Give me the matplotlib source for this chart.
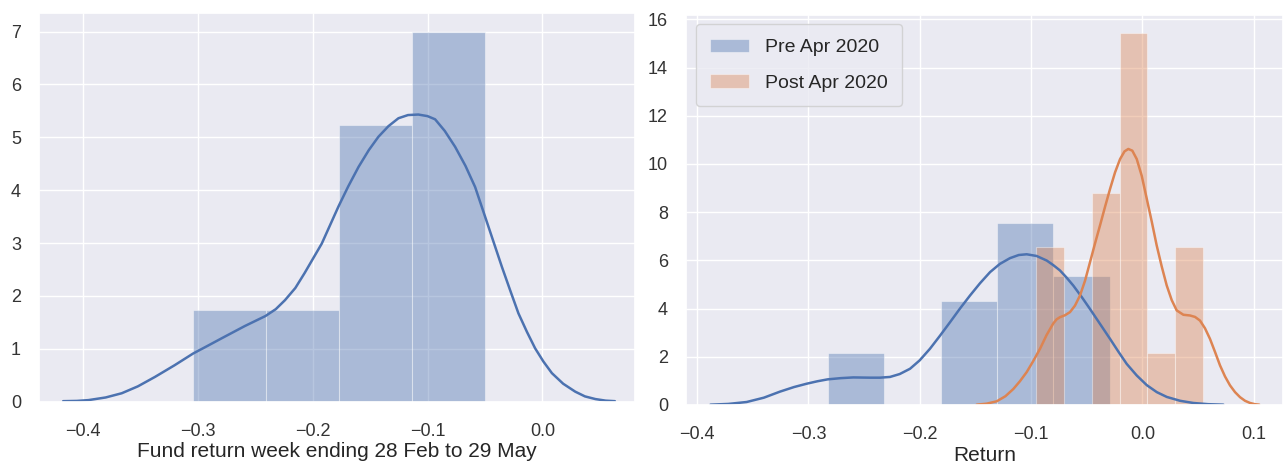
import numpy as np
import matplotlib
matplotlib.use("Agg")
import matplotlib.pyplot as plt
import seaborn as sns

# left panel: fund return histogram + kde
left_edges = [-0.304, -0.2405, -0.177, -0.1135, -0.050]
left_heights = [1.73, 1.73, 5.23, 6.99]
left_kde_x = [-0.417, -0.405, -0.395, -0.380, -0.366, -0.352, -0.337, -0.320,
              -0.304, -0.291, -0.279, -0.259, -0.241, -0.232, -0.224, -0.215,
              -0.207, -0.192, -0.1775, -0.169, -0.160, -0.151, -0.1427,
              -0.134, -0.1253, -0.117, -0.108, -0.100, -0.0934, -0.085,
              -0.076, -0.067, -0.0586, -0.047, -0.0353, -0.028, -0.0209,
              -0.0135, -0.0064, 0.0008, 0.0082, 0.018, 0.0285, 0.037, 0.046,
              0.055, 0.063]
left_kde_y = [0.01, 0.015, 0.03, 0.08, 0.16, 0.29, 0.47, 0.69,
              0.91, 1.06, 1.20, 1.43, 1.62, 1.75, 1.92, 2.15,
              2.43, 2.99, 3.69, 4.07, 4.44, 4.76, 5.01,
              5.21, 5.36, 5.42, 5.43, 5.40, 5.34, 5.12,
              4.82, 4.46, 4.06, 3.31, 2.55, 2.10, 1.67,
              1.32, 1.01, 0.76, 0.54, 0.34, 0.19, 0.10, 0.05,
              0.02, 0.01]

# right panel: pre / post Apr 2020
pre_edges = [-0.2827, -0.2320, -0.1813, -0.1306, -0.0799, -0.0292]
pre_heights = [2.14, 0.0, 4.31, 7.53, 5.35]
pre_kde_x = [-0.388, -0.372, -0.3555, -0.340, -0.3256, -0.313, -0.3015,
             -0.292, -0.2827, -0.271, -0.2597, -0.2447, -0.2357, -0.2267,
             -0.218, -0.2087, -0.200, -0.1908, -0.1818, -0.1728, -0.1638,
             -0.1548, -0.1458, -0.1368, -0.128, -0.1189, -0.111, -0.1039,
             -0.095, -0.0859, -0.080, -0.074, -0.068, -0.062, -0.0545,
             -0.047, -0.038, -0.029, -0.0215, -0.014, -0.005, 0.004, 0.013,
             0.022, 0.034, 0.0458, 0.059, 0.0728]
pre_kde_y = [0.01, 0.04, 0.12, 0.30, 0.55, 0.74, 0.88,
             0.98, 1.06, 1.11, 1.14, 1.13, 1.13, 1.16,
             1.28, 1.50, 1.85, 2.33, 2.87, 3.43, 4.00,
             4.54, 5.05, 5.51, 5.85, 6.09, 6.22, 6.25,
             6.18, 5.99, 5.80, 5.58, 5.28, 4.95, 4.48,
             3.98, 3.36, 2.74, 2.21, 1.70, 1.22, 0.82, 0.53,
             0.33, 0.17, 0.08, 0.03, 0.01]

post_edges = [-0.0955, -0.0705, -0.0455, -0.0205, 0.0045, 0.0295, 0.0545]
post_heights = [6.56, 0.0, 8.81, 15.44, 2.17, 6.56]
post_kde_x = [-0.1488, -0.140, -0.1308, -0.123, -0.1159, -0.110, -0.1039,
              -0.098, -0.0919, -0.086, -0.080, -0.077, -0.074, -0.0695,
              -0.065, -0.0605, -0.056, -0.0515, -0.047, -0.0425, -0.038,
              -0.0335, -0.029, -0.0245, -0.020, -0.016, -0.0126, -0.009,
              -0.005, -0.0005, 0.004, 0.0085, 0.0129, 0.0174, 0.0219, 0.0264,
              0.0309, 0.0369, 0.0429, 0.0474, 0.0518, 0.0563, 0.0608, 0.0653,
              0.0698, 0.0743, 0.0788, 0.0833, 0.0878, 0.0923, 0.0968, 0.101,
              0.105]
post_kde_y = [0.01, 0.05, 0.15, 0.36, 0.66, 0.98, 1.36,
              1.82, 2.33, 2.90, 3.38, 3.55, 3.64, 3.72,
              3.85, 4.12, 4.54, 5.15, 5.92, 6.70, 7.45,
              8.22, 8.96, 9.65, 10.20, 10.52, 10.62, 10.55,
              10.20, 9.50, 8.55, 7.60, 6.62, 5.75, 4.96, 4.35,
              3.92, 3.74, 3.71, 3.65, 3.50, 3.18, 2.74, 2.20,
              1.64, 1.18, 0.81, 0.53, 0.32, 0.17, 0.08, 0.03,
              0.01]

labels = ["Pre Apr 2020", "Post Apr 2020"]

sns.set_theme(style="darkgrid")
plt.rcParams["font.family"] = ["Liberation Sans", "DejaVu Sans"]

blue = sns.color_palette("deep")[0]
orange = sns.color_palette("deep")[1]


def draw_hist(ax, edges, heights, color, label=None):
    edges = np.asarray(edges)
    ax.bar(edges[:-1], heights, width=np.diff(edges), align="edge",
           color=color, alpha=0.4, edgecolor="white", linewidth=0.8,
           label=label)


W, H = 1285, 467
fig = plt.figure(figsize=(W / 100, H / 100), dpi=100)
# axes boxes in pixels: left, top, right, bottom
ax1 = fig.add_axes([39 / W, (H - 401.7) / H, (635 - 39) / W, (401.7 - 13) / H])
ax2 = fig.add_axes([686 / W, (H - 404.9) / H, (1283 - 686) / W, (404.9 - 14.5) / H])

draw_hist(ax1, left_edges, left_heights, blue)
ax1.plot(left_kde_x, left_kde_y, color=blue, lw=1.8, solid_joinstyle="round")
ax1.set_xlabel("Fund return week ending 28 Feb to 29 May", fontsize=15,
               labelpad=2)
ax1.set_xlim(-0.438, 0.0805)
ax1.set_ylim(0, 7.35)

draw_hist(ax2, pre_edges, pre_heights, blue, labels[0])
ax2.plot(pre_kde_x, pre_kde_y, color=blue, lw=1.8, solid_joinstyle="round")
draw_hist(ax2, post_edges, post_heights, orange, labels[1])
ax2.plot(post_kde_x, post_kde_y, color=orange, lw=1.8, solid_joinstyle="round")
ax2.set_xlabel("Return", fontsize=15, labelpad=2)
ax2.set_xlim(-0.41, 0.1264)
ax2.set_ylim(0, 16.2)
ax2.legend(loc="upper left", fontsize=14, labelspacing=0.9, borderpad=0.75)

for ax in (ax1, ax2):
    ax.tick_params(labelsize=13, colors="#333333")
    ax.tick_params(axis="x", pad=9)
    ax.tick_params(axis="y", pad=7)

fig.savefig("out.png", dpi=100)
